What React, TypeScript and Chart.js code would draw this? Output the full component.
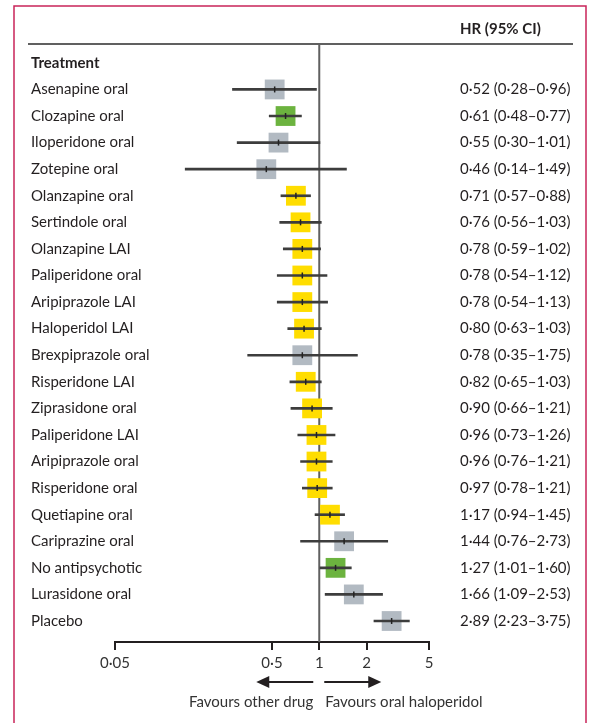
import React, { useEffect, useRef } from "react";
import { Chart, registerables } from "chart.js";
Chart.register(...registerables);

const treatments = [
  "Asenapine oral", "Clozapine oral", "Iloperidone oral", "Zotepine oral",
  "Olanzapine oral", "Sertindole oral", "Olanzapine LAI", "Paliperidone oral",
  "Aripiprazole LAI", "Haloperidol LAI", "Brexpiprazole oral", "Risperidone LAI",
  "Ziprasidone oral", "Paliperidone LAI", "Aripiprazole oral", "Risperidone oral",
  "Quetiapine oral", "Cariprazine oral", "No antipsychotic", "Lurasidone oral", "Placebo",
];
const hr = [0.52, 0.61, 0.55, 0.46, 0.71, 0.76, 0.78, 0.78, 0.78, 0.80, 0.78, 0.82, 0.90, 0.96, 0.96, 0.97, 1.17, 1.44, 1.27, 1.66, 2.89];
const ciLow = [0.28, 0.48, 0.30, 0.14, 0.57, 0.56, 0.59, 0.54, 0.54, 0.63, 0.35, 0.65, 0.66, 0.73, 0.76, 0.78, 0.94, 0.76, 1.01, 1.09, 2.23];
const ciHigh = [0.96, 0.77, 1.01, 1.49, 0.88, 1.03, 1.02, 1.12, 1.13, 1.03, 1.75, 1.03, 1.21, 1.26, 1.21, 1.21, 1.45, 2.73, 1.60, 2.53, 3.75];
const groups = [
  "grey", "green", "grey", "grey", "yellow", "yellow", "yellow", "yellow", "yellow", "yellow",
  "grey", "yellow", "yellow", "yellow", "yellow", "yellow", "yellow", "grey", "green", "grey", "grey",
];
const xTicks = [0.05, 0.5, 1, 2, 5];
const headerLeft = "Treatment";
const headerRight = "HR (95% CI)";
const favourLeft = "Favours other drug";
const favourRight = "Favours oral haloperidol";

const FONT = "Lato, 'Open Sans', sans-serif";
const TEXT = "#231f20";
const groupColors: Record<string, string> = { grey: "#b2bac2", green: "#6cb33f", yellow: "#ffdd00" };
const fmt = (v: number) => v.toFixed(2).replace(".", "·");

export default function App() {
  const ref = useRef<HTMLCanvasElement>(null);
  useEffect(() => {
    if (!ref.current) return;
    const leftLabels = [headerLeft, ...treatments];
    const rightLabels = ["", ...hr.map((v, i) => `${fmt(v)} (${fmt(ciLow[i])}–${fmt(ciHigh[i])})`)];
    const yMin = -0.71;
    const yMax = 21.79;
    const rowTicks = (scale: any) => {
      scale.ticks = leftLabels.map((_, i) => ({ value: i }));
    };

    const decor = {
      id: "decor",
      beforeDatasetsDraw(chart: any) {
        const { ctx, chartArea, scales } = chart;
        const x1 = scales.x.getPixelForValue(1);
        ctx.save();
        ctx.strokeStyle = "#606060";
        ctx.lineWidth = 2;
        ctx.beginPath();
        ctx.moveTo(x1, chartArea.top);
        ctx.lineTo(x1, chartArea.bottom);
        ctx.stroke();
        ctx.beginPath();
        ctx.moveTo(28, chartArea.top);
        ctx.lineTo(573, chartArea.top);
        ctx.stroke();
        ctx.restore();
      },
      afterDraw(chart: any) {
        const { ctx, chartArea, scales } = chart;
        const x1 = scales.x.getPixelForValue(1);
        ctx.save();
        // header
        ctx.fillStyle = TEXT;
        ctx.font = `bold 15px ${FONT}`;
        ctx.textAlign = "left";
        ctx.textBaseline = "middle";
        ctx.fillText(headerRight, scales.y2.left + 31, chartArea.top - 15);
        // arrows
        const ay = chartArea.bottom + 40;
        ctx.strokeStyle = "#231f20";
        ctx.fillStyle = "#231f20";
        ctx.lineWidth = 2;
        const arrow = (from: number, to: number) => {
          const dir = Math.sign(to - from);
          ctx.beginPath();
          ctx.moveTo(from, ay);
          ctx.lineTo(to - dir * 12, ay);
          ctx.stroke();
          ctx.beginPath();
          ctx.moveTo(to, ay);
          ctx.lineTo(to - dir * 13, ay - 6);
          ctx.lineTo(to - dir * 13, ay + 6);
          ctx.closePath();
          ctx.fill();
        };
        arrow(x1 - 6, x1 - 63);
        arrow(x1 + 5, x1 + 62);
        ctx.font = `15px ${FONT}`;
        ctx.fillStyle = "#333";
        ctx.textAlign = "right";
        ctx.fillText(favourLeft, x1 - 6, ay + 20);
        ctx.textAlign = "left";
        ctx.fillText(favourRight, x1 + 6, ay + 20);
        // frame
        ctx.strokeStyle = "#c9245a";
        ctx.lineWidth = 1.5;
        ctx.beginPath();
        ctx.moveTo(14, chart.height);
        ctx.lineTo(14, 6);
        ctx.lineTo(586, 6);
        ctx.lineTo(586, chart.height);
        ctx.stroke();
        ctx.restore();
      },
    };

    const chart = new Chart(ref.current, {
      type: "scatter",
      data: {
        datasets: [
          {
            type: "scatter",
            data: hr.map((v, i) => ({ x: v, y: i + 1 })),
            pointStyle: "line",
            rotation: 90,
            pointRadius: 3,
            pointHoverRadius: 3,
            borderColor: "#222",
            borderWidth: 1.5,
            yAxisID: "y",
          } as any,
          {
            type: "bar",
            indexAxis: "y",
            data: ciLow.map((l, i) => ({ x: [l, ciHigh[i]], y: i + 1 })),
            barThickness: 2,
            backgroundColor: "#3d3d3d",
            borderWidth: 0,
            yAxisID: "y",
          } as any,
          {
            type: "scatter",
            data: hr.map((v, i) => ({ x: v, y: i + 1 })),
            pointStyle: "rect",
            pointRadius: 14,
            pointHoverRadius: 14,
            backgroundColor: groups.map((g) => groupColors[g]),
            borderWidth: 0,
            yAxisID: "y",
          } as any,
        ],
      },
      options: {
        animation: false,
        responsive: false,
        maintainAspectRatio: false,
        layout: { padding: { left: 30, right: 10, top: 44, bottom: 0 } },
        plugins: { legend: { display: false }, tooltip: { enabled: false } },
        scales: {
          x: {
            type: "logarithmic",
            min: 0.05,
            max: 5,
            offset: false,
            beginAtZero: false,
            afterBuildTicks: (scale: any) => {
              scale.ticks = xTicks.map((v) => ({ value: v }));
            },
            afterFit: (scale: any) => {
              scale.height = 81;
            },
            grid: { display: true, drawOnChartArea: false, drawTicks: true, tickLength: 8, color: "#231f20", lineWidth: 2, offset: false },
            border: { display: true, color: "#231f20", width: 2 },
            ticks: {
              autoSkip: false,
              maxRotation: 0,
              padding: 4,
              color: "#333",
              font: { family: FONT, size: 15 },
              callback: (v: any) => String(v).replace(".", "·"),
            },
          },
          y: {
            type: "linear",
            position: "left",
            reverse: true,
            offset: false,
            min: yMin,
            max: yMax,
            afterBuildTicks: rowTicks,
            afterFit: (scale: any) => {
              scale.width = 85;
            },
            grid: { display: false, drawTicks: false, offset: false },
            border: { display: false },
            ticks: {
              autoSkip: false,
              mirror: true,
              crossAlign: "near",
              padding: -84,
              color: TEXT,
              font: (c: any) => ({ family: FONT, size: 15, weight: c.index === 0 ? "bold" : "normal" }),
              callback: (v: any) => leftLabels[v] ?? "",
            },
          },
          y2: {
            type: "linear",
            position: "right",
            reverse: true,
            offset: false,
            min: yMin,
            max: yMax,
            afterBuildTicks: rowTicks,
            afterFit: (scale: any) => {
              scale.width = 150;
            },
            grid: { display: false, drawTicks: false },
            border: { display: false },
            ticks: {
              autoSkip: false,
              crossAlign: "near",
              padding: 31,
              color: TEXT,
              font: { family: FONT, size: 15 },
              callback: (v: any) => rightLabels[v] ?? "",
            },
          },
        },
      } as any,
      plugins: [decor],
    });
    return () => chart.destroy();
  }, []);

  return (
    <div style={{ position: "absolute", left: 0, top: 0, width: 589, height: 723, background: "#fff" }}>
      <canvas ref={ref} width={589} height={723} style={{ width: 589, height: 723 }} />
    </div>
  );
}
